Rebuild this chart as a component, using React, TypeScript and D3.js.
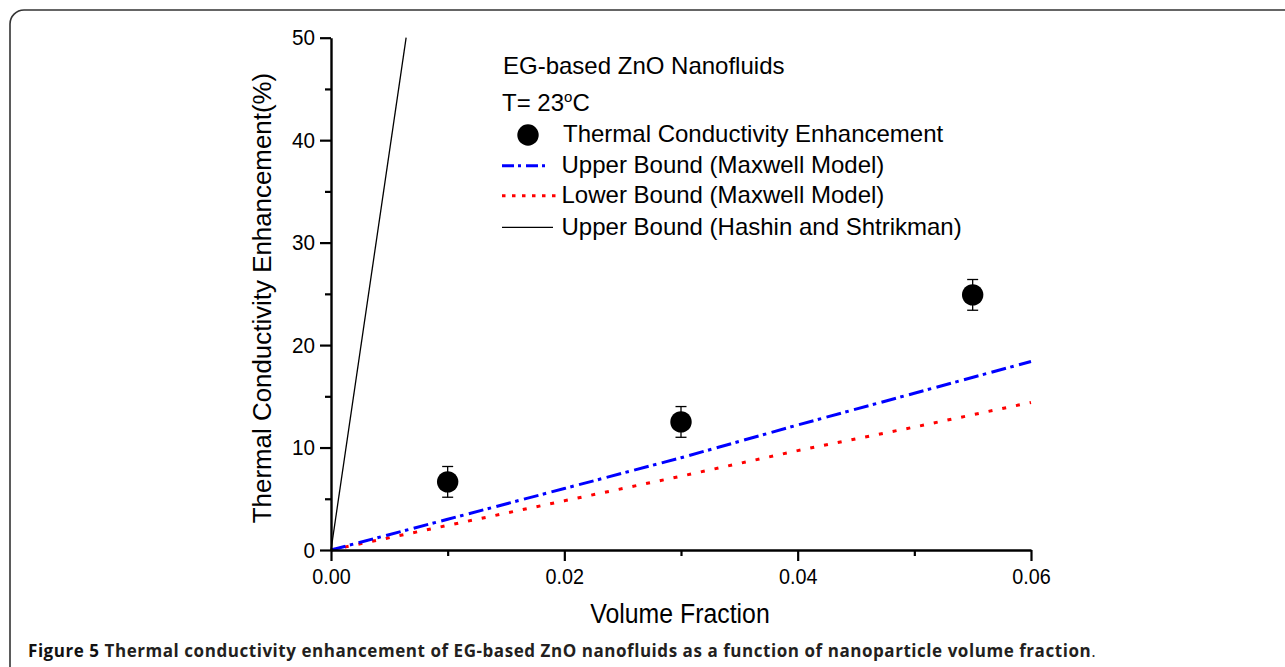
import React, { useEffect, useRef } from 'react';
import * as d3 from 'd3';

// ---- data ----
const volumeFraction = [0.01, 0.03, 0.055];
const enhancement = [6.65, 12.5, 24.9];
const errorBar = [1.5, 1.5, 1.5];

const boundX = [0, 0.01, 0.02, 0.03, 0.04, 0.05, 0.06];
const maxwellUpper = [0, 3.0, 6.0, 9.0, 12.2, 15.3, 18.4];
const maxwellLower = [0, 2.4, 4.8, 7.2, 9.7, 12.0, 14.4];
const hashinX = [0, 0.00644];
const hashinY = [0, 50];

const xTicks = [0, 0.02, 0.04, 0.06];
const xMinorTicks = [0.01, 0.03, 0.05];
const yTicks = [0, 10, 20, 30, 40, 50];
const yMinorTicks = [5, 15, 25, 35, 45];

const legendTitle = 'EG-based ZnO Nanofluids';
const legendLabels = [
  'Thermal Conductivity Enhancement',
  'Upper Bound (Maxwell Model)',
  'Lower Bound (Maxwell Model)',
  'Upper Bound (Hashin and Shtrikman)',
];

const FONT = '"Liberation Sans", Arial, sans-serif';

export default function App() {
  const xAxisRef = useRef<SVGGElement>(null);
  const xMinorRef = useRef<SVGGElement>(null);
  const yAxisRef = useRef<SVGGElement>(null);
  const yMinorRef = useRef<SVGGElement>(null);

  const x = d3.scaleLinear().domain([0, 0.06]).range([331, 1031]);
  const y = d3.scaleLinear().domain([0, 50]).range([550, 37.7]);

  useEffect(() => {
    const style = (g: d3.Selection<SVGGElement, unknown, null, undefined>) => {
      g.selectAll('path').attr('stroke', '#000').attr('stroke-width', 2.4);
      g.selectAll('line').attr('stroke', '#000').attr('stroke-width', 2.2);
      g.selectAll('text').attr('fill', '#000').style('font-family', FONT);
    };
    const xa = d3.select(xAxisRef.current!);
    xa.call(
      d3.axisBottom(x).tickValues(xTicks).tickSize(11).tickSizeOuter(0).tickPadding(7)
        .tickFormat((d) => d3.format('.2f')(d as number))
    );
    style(xa);
    xa.selectAll('text').style('font-size', '22px').attr('transform', 'scale(0.9,1)');
    const xm = d3.select(xMinorRef.current!);
    xm.call(d3.axisBottom(x).tickValues(xMinorTicks).tickSize(6).tickSizeOuter(0).tickFormat(() => ''));
    style(xm);
    xm.select('path').remove();

    const ya = d3.select(yAxisRef.current!);
    ya.call(d3.axisLeft(y).tickValues(yTicks).tickSize(11).tickSizeOuter(0).tickPadding(6.5));
    style(ya);
    ya.selectAll('text').style('font-size', '22.5px').attr('transform', 'scale(0.92,1)');
    const ym = d3.select(yMinorRef.current!);
    ym.call(d3.axisLeft(y).tickValues(yMinorTicks).tickSize(6).tickSizeOuter(0).tickFormat(() => ''));
    style(ym);
    ym.select('path').remove();
  }, []);

  const lineGen = d3
    .line<[number, number]>()
    .x((d) => x(d[0]))
    .y((d) => y(d[1]));

  const upperPts = boundX.map((v, i) => [v, maxwellUpper[i]] as [number, number]);
  const lowerPts = boundX.map((v, i) => [v, maxwellLower[i]] as [number, number]);
  const hashinPts = hashinX.map((v, i) => [v, hashinY[i]] as [number, number]);

  const legendX = 502;
  const legendRows = [141.7, 172.7, 203.3, 235];

  return (
    <svg
      width={1285}
      height={667}
      style={{ position: 'absolute', left: 0, top: 0, background: '#fff' }}
      fontFamily={FONT}
    >
      <rect x={0} y={0} width={1285} height={667} fill="#fff" />
      {/* frame */}
      <path d="M10,667 L10,24 A14,14 0 0 1 24,10 L1285,10" fill="none" stroke="#333" strokeWidth={1.6} />

      {/* bound lines */}
      <path d={lineGen(hashinPts)!} fill="none" stroke="#000" strokeWidth={1.3} />
      <path d={lineGen(lowerPts)!} fill="none" stroke="#ff0000" strokeWidth={3} strokeDasharray="4 10" />
      <path d={lineGen(upperPts)!} fill="none" stroke="#0000ff" strokeWidth={3} strokeDasharray="15 4.5 3.5 5.5" />

      {/* axes */}
      <g ref={xMinorRef} transform={`translate(0,${y(0)})`} />
      <g ref={yMinorRef} transform={`translate(${x(0)},0)`} />
      <g ref={xAxisRef} transform={`translate(0,${y(0)})`} />
      <g ref={yAxisRef} transform={`translate(${x(0)},0)`} />

      {/* data points with error bars */}
      {volumeFraction.map((v, i) => {
        const cx = x(v);
        const top = y(enhancement[i] + errorBar[i]);
        const bot = y(enhancement[i] - errorBar[i]);
        return (
          <g key={i}>
            <line x1={cx} x2={cx} y1={top} y2={bot} stroke="#000" strokeWidth={1.3} />
            <line x1={cx - 5.5} x2={cx + 5.5} y1={top} y2={top} stroke="#000" strokeWidth={1.3} />
            <line x1={cx - 5.5} x2={cx + 5.5} y1={bot} y2={bot} stroke="#000" strokeWidth={1.3} />
            <circle cx={cx} cy={y(enhancement[i])} r={10.7} fill="#000" />
          </g>
        );
      })}

      {/* axis titles */}
      <text transform="translate(680,623) scale(0.92,1)" textAnchor="middle" fontSize={27} fill="#000">
        Volume Fraction
      </text>
      <text
        transform="translate(271,298) rotate(-90)"
        textAnchor="middle"
        fontSize={25.9}
        fill="#000"
      >
        Thermal Conductivity Enhancement(%)
      </text>

      {/* legend */}
      <text x={503} y={74.3} fontSize={24} fill="#000">
        {legendTitle}
      </text>
      <text x={502} y={111} fontSize={24} fill="#000">
        T= 23<tspan dy={-9} fontSize={15}>o</tspan>
        <tspan dy={9}>C</tspan>
      </text>
      <circle cx={528} cy={135} r={10.7} fill="#000" />
      <line x1={legendX} x2={550} y1={165.7} y2={165.7} stroke="#0000ff" strokeWidth={3} strokeDasharray="12 4 3 5" />
      <line x1={legendX} x2={556} y1={195.7} y2={195.7} stroke="#ff0000" strokeWidth={3} strokeDasharray="3.5 6.5" />
      <line x1={legendX} x2={553} y1={227.3} y2={227.3} stroke="#000" strokeWidth={1.3} />
      {legendLabels.map((t, i) => (
        <text key={t} x={i === 0 ? 563 : 561.5} y={legendRows[i]} fontSize={24} fill="#000">
          {t}
        </text>
      ))}

      {/* caption */}
      <text
        x={28}
        y={656.7}
        fontSize={17}
        letterSpacing={0.55}
        fontFamily='"Open Sans", sans-serif'
        fontWeight={700}
        fill="#231f20"
      >
        <tspan fill="#111">Figure 5</tspan>
        <tspan> Thermal conductivity enhancement of EG-based ZnO nanofluids as a function of nanoparticle volume fraction</tspan>
        <tspan fontWeight={400}>.</tspan>
      </text>
    </svg>
  );
}
